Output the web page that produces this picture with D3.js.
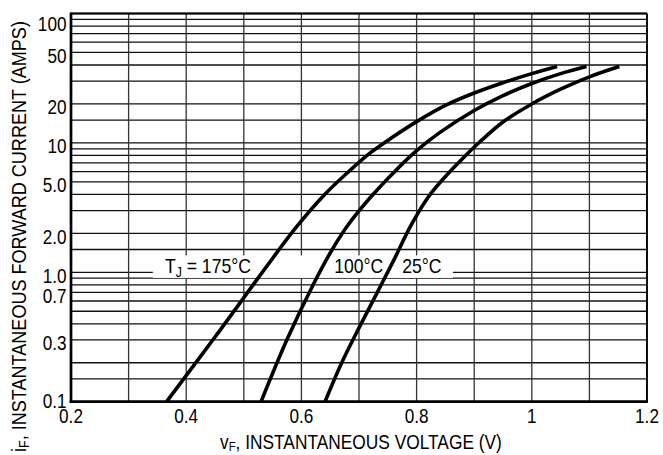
<!DOCTYPE html>
<html>
<head>
<meta charset="utf-8">
<script src="https://cdn.jsdelivr.net/npm/d3@7"></script>
<style>
  body { margin: 0; background: #fff; }
  text { font-family: "Liberation Sans", Arial, Helvetica, sans-serif; fill: #000; }
</style>
</head>
<body>
<div id="chart"></div>
<script>
//Ejes y rejilla
const xTicks = [0.2, 0.4, 0.6, 0.8, 1, 1.2];
const xTickLabels = ['0.2', '0.4', '0.6', '0.8', '1', '1.2'];
const xGrid = [0.2, 0.3, 0.4, 0.5, 0.6, 0.7, 0.8, 0.9, 1.0, 1.1, 1.2];
const yTicks = [100, 50, 20, 10, 5, 2, 1, 0.7, 0.3, 0.1];
const yTickLabels = ['100', '50', '20', '10', '5.0', '2.0', '1.0', '0.7', '0.3', '0.1'];
const yGridSteps = [1, 1.5, 2, 3, 4, 5, 6, 7, 8, 9];
const yGridDecades = [0.1, 1, 10, 100];

//Curvas (vF en V, iF en A)
const vF175 = [0.366, 0.45, 0.59, 0.64, 0.68, 0.72, 0.76, 0.80, 0.85, 0.90, 0.95, 1.0, 1.044];
const iF175 = [0.1, 0.316, 2.2, 3.98, 5.89, 8.41, 11.2, 14.6, 19.5, 24.3, 29.2, 34.3, 38.9];
const vF100 = [0.53, 0.575, 0.62, 0.65, 0.68, 0.72, 0.76, 0.80, 0.84, 0.90, 0.95, 1.0, 1.05, 1.095];
const iF100 = [0.1, 0.302, 0.794, 1.41, 2.29, 3.80, 5.89, 8.71, 12.0, 17.8, 23.2, 28.8, 34.3, 38.9];
const vF25 = [0.641, 0.67, 0.70, 0.73, 0.76, 0.79, 0.82, 0.85, 0.88, 0.91, 0.95, 1.0, 1.05, 1.10, 1.152];
const iF25 = [0.1, 0.2, 0.372, 0.676, 1.23, 2.29, 3.80, 5.50, 7.59, 10.2, 14.5, 20.0, 26.0, 32.4, 38.9];

const seriesNames = ['175', '100', '25'];

const W = 663, H = 455;
const margin = {top: 13.5, right: 16, bottom: 53.3, left: 71};
const SX = 0.88; //letra estrecha

const svg = d3.select('#chart').append('svg')
    .attr('width', W)
    .attr('height', H);

const x = d3.scaleLinear()
    .domain([0.2, 1.2])
    .range([margin.left, W - margin.right]);

const y = d3.scaleLog()
    .domain([0.1, 100])
    .range([H - margin.bottom, margin.top]);

//Rejilla horizontal
let yGrid = [];
yGridDecades.forEach(function(d) {
    yGridSteps.forEach(function(s) { if (d * s <= 100.0001) { yGrid.push(d * s); } });
});

svg.append('g')
    .selectAll('line')
    .data(yGrid)
    .enter()
    .append('line')
    .attr('x1', x(0.2))
    .attr('x2', x(1.2))
    .attr('y1', function(d) { return y(d); })
    .attr('y2', function(d) { return y(d); })
    .attr('stroke', '#111')
    .attr('stroke-width', 1.3);

//Rejilla vertical
svg.append('g')
    .selectAll('line')
    .data(xGrid)
    .enter()
    .append('line')
    .attr('x1', function(d) { return x(d); })
    .attr('x2', function(d) { return x(d); })
    .attr('y1', y(0.1))
    .attr('y2', y(100))
    .attr('stroke', '#333')
    .attr('stroke-width', 1.3);

//Marco
svg.append('line').attr('x1', x(0.2)).attr('x2', x(1.2)).attr('y1', y(100)).attr('y2', y(100))
    .attr('stroke', '#000').attr('stroke-width', 1.8);
svg.append('line').attr('x1', x(1.2)).attr('x2', x(1.2)).attr('y1', y(0.1)).attr('y2', y(100))
    .attr('stroke', '#000').attr('stroke-width', 1.8);
svg.append('line').attr('x1', x(0.2)).attr('x2', x(0.2)).attr('y1', y(0.1) + 1.3).attr('y2', y(100) - 0.9)
    .attr('stroke', '#000').attr('stroke-width', 2.7);
svg.append('line').attr('x1', x(0.2) - 1.3).attr('x2', x(1.2) + 0.9).attr('y1', y(0.1)).attr('y2', y(0.1))
    .attr('stroke', '#000').attr('stroke-width', 2.7);

//Caja blanca de etiquetas
svg.append('rect')
    .attr('x', x(0.342))
    .attr('y', y(1.35))
    .attr('width', x(0.863) - x(0.342))
    .attr('height', y(0.905) - y(1.35))
    .attr('fill', '#fff');

//Curvas
const line = d3.line()
    .x(function(d) { return x(d[0]); })
    .y(function(d) { return y(d[1]); })
    .curve(d3.curveCatmullRom.alpha(0.5));

const series = [d3.zip(vF175, iF175), d3.zip(vF100, iF100), d3.zip(vF25, iF25)];

svg.append('g')
    .selectAll('path')
    .data(series)
    .enter()
    .append('path')
    .attr('d', line)
    .attr('fill', 'none')
    .attr('stroke', '#000')
    .attr('stroke-width', 3.6)
    .attr('stroke-linecap', 'butt');

//Texto estrecho (condensado)
function narrowText(px, py, size, anchor) {
    return svg.append('text')
        .attr('transform', 'translate(' + px + ',' + py + ') scale(' + SX + ',1)')
        .attr('text-anchor', anchor)
        .style('font-size', size + 'px');
}

//Etiquetas de temperatura
const lblY = y(1) + 1;
let t175 = narrowText(x(0.363), lblY, 20, 'start');
t175.append('tspan').text('T');
t175.append('tspan').text('J').attr('dy', 4).style('font-size', '14px');
t175.append('tspan').text(' = ' + seriesNames[0] + '°C').attr('dy', -4);

narrowText(x(0.657), lblY, 20, 'start').text(seriesNames[1] + '°C');
narrowText(x(0.775), lblY, 20, 'start').text(seriesNames[2] + '°C');

//Etiquetas eje X
xTicks.forEach(function(d, i) {
    narrowText(x(d), y(0.1) + 21.5, 19.5, 'middle').text(xTickLabels[i]);
});

//Etiquetas eje Y
yTicks.forEach(function(d, i) {
    let c = y(d) + 3.5;
    c = Math.max(c, y(100) + 10);
    c = Math.min(c, y(0.1) - 1);
    narrowText(x(0.2) - 4.5, c + 7, 19.5, 'end').text(yTickLabels[i]);
});

//Título eje X
let xt = svg.append('text')
    .style('font-size', '20px');
xt.append('tspan').text('v');
xt.append('tspan').text('F').attr('dy', 2.5).style('font-size', '13px');
xt.append('tspan').text(', INSTANTANEOUS VOLTAGE (V)').attr('dy', -2.5);
let xLen = xt.node().getComputedTextLength();
xt.attr('transform', 'translate(220,448.5) scale(' + (282 / xLen) + ',1)');

//Título eje Y
let yt = svg.append('text')
    .style('font-size', '20px');
yt.append('tspan').text('i');
yt.append('tspan').text('F').attr('dy', 3).style('font-size', '14px');
yt.append('tspan').text(', INSTANTANEOUS FORWARD CURRENT (AMPS)').attr('dy', -3);
let yLen = yt.node().getComputedTextLength();
yt.attr('transform', 'translate(26,452) rotate(-90) scale(' + (431 / yLen) + ',1)');
</script>
</body>
</html>
